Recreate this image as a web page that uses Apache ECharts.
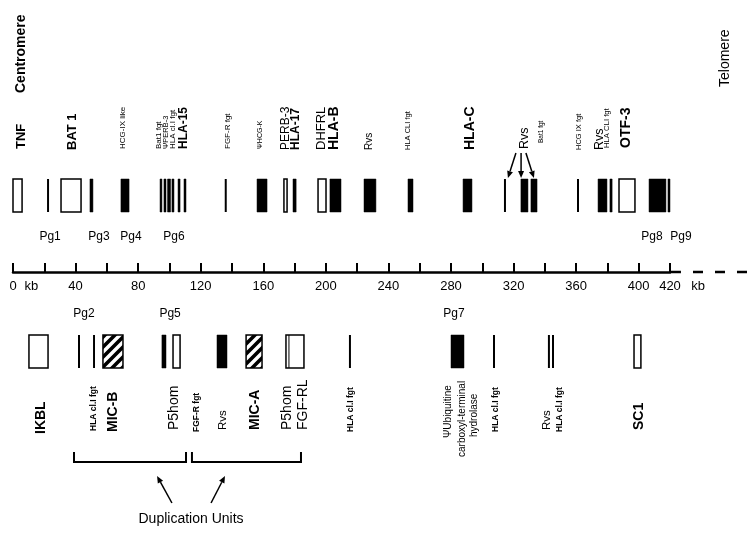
<!DOCTYPE html>
<html><head><meta charset="utf-8">
<script src="https://cdn.jsdelivr.net/npm/echarts@6/dist/echarts.min.js"></script>
<style>html,body{margin:0;padding:0;background:#fff}#c{width:756px;height:535px}</style>
</head><body><div id="c"></div>
<script>
// ===== DATA (positions in kb) =====
const tickStep = 20;
const tickLabelValues = [0, 40, 80, 120, 160, 200, 240, 280, 320, 360, 400, 420];
const axisMaxKb = 420;

// upper track
const topOpen  = [[0,5.8],[30.7,43.5],[173.2,175.2],[195,200.1],[387.4,397.6]];
const topFill  = [[49.2,51.1],[69,74.2],[94,95.2],[96.5,97.8],[98.8,100.7],[101.6,102.9],[105.5,106.8],[109.3,110.6],
                  [156,162.4],[179,181],[202.6,209.7],[224.4,232],[252.5,255.7],[287.7,293.4],[324.7,329.2],[331.1,335],
                  [374,379.7],[381.6,383],[406.6,417.4],[418.7,420]];
const topLines = [22.4, 136, 314.5, 361.2];

// lower track
const botOpen  = [[10.2,22.4],[102.3,106.8],[174.5,186],[397,401.4]];
const botInner = [176.4];
const botFill  = [[95.2,97.8],[130.4,136.8],[280,288.3]];
const botHatch = [[57.5,70.3],[149,159.2]];
const botLines = [42.2, 51.8, 215.4, 307.5, 342.6, 345.2];

// labels
const topLabels = ['Centromere','TNF','BAT 1','HCG-IX like','Bat1 fgt','ΨPERB-3','HLA cl.I fgt','HLA-15','FGF-R fgt','ΨHCG-K',
                   'PERB-3','HLA-17','DHFRL','HLA-B','Rvs','HLA CLI fgt','HLA-C','Rvs','Bat1 fgt','HCG IX fgt','Rvs','HLA CLI fgt','OTF-3','Telomere'];
const topLabelKb = [5.3,5.3,37.7,70.3,93.3,97.8,102.3,109.3,137.4,157.9,
                    174.5,180.9,196.9,205.2,227.9,252.5,292.1,326.7,337.5,361.8,375.2,379.7,391.9,455.2];
const pgTop = ['Pg1','Pg3','Pg4','Pg6','Pg8','Pg9'];
const pgTopKb = [23.7,55,75.4,102.9,408.5,427];
const pgBot = ['Pg2','Pg5','Pg7'];
const pgBotKb = [45.4,100.4,281.9];
const botLabels = ['IKBL','HLA cl.I fgt','MIC-B','P5hom','FGF-R fgt','Rvs','MIC-A','P5hom','FGF-RL','HLA cl.I fgt',
                   'ΨUbiquitine','carboxyl-terminal','hydrolase','HLA cl.I fgt','Rvs','HLA cl.I fgt','SC1'];
const botLabelKb = [17.9,51.8,63.9,102.9,117.6,134.2,154.7,175.2,185.4,216.1,278.1,287,294.7,308.8,341.4,349.7,400.2];
const rvsArrowFromKb = [321.5,324.8,327.9];
const rvsArrowToKb   = [316.4,324.8,333.0];
const dupUnitsKb = [[39,110.6],[114.4,184.1]];
const dupArrowFromKb = [101.6,126.6];
const dupArrowToKb   = [92.1,135.5];
const dupTextKb = 113.8;
const kbUnitKb = [11.8, 437.9];
const axisExtKb = [420, 427];
const dashKb = [434.7, 470];

// ===== LAYOUT / STYLE =====
const FONT = "'Liberation Sans', Arial, Helvetica, sans-serif";
const ROW_T = {t:179, b:212};
const ROW_B = {t:335, b:368};
const topLabelStyle = ['B14','B13','B13','R8','R8','R7.5','R8','B12','R8','R7','R12','B12','R13','B14','R10','R7.5','B14','R12.5','R6.5','R7.5','R12.5','R7.7','B14','R14'];
const topLabelStart = [93,149,150,149,149,149,149,149,149,149,150,150,150,150,150,150,150,149,143,150,150,148,148,87];
const botLabelStyle = ['B14','B8.5','B14','R14','B8.5','R11.5','B14','R14','R14','B8.5','R10','R10','R10','B8.5','R11.5','B8.5','B14'];
const botLabelStart = [434,431,432,430,432,430,430,430,430,432,438,457,437,432,430,432,430];

// hatch pattern
const pc = document.createElement('canvas'); pc.width = 10; pc.height = 10;
const g = pc.getContext('2d');
g.fillStyle = '#fff'; g.fillRect(0,0,10,10);
g.strokeStyle = '#000'; g.lineWidth = 3.6;
g.beginPath();
g.moveTo(-5,5); g.lineTo(5,-5);
g.moveTo(0,10); g.lineTo(10,0);
g.moveTo(5,15); g.lineTo(15,5);
g.stroke();
const hatch = {image: pc, repeat: 'repeat'};

function fontOf(st){ const b = st[0]==='B'; return (b?'bold ':'') + parseFloat(st.slice(1)) + 'px ' + FONT; }

function blockSeries(data, row, kind){
  return {type:'custom', xAxisIndex:0, yAxisIndex:0, clip:false, silent:true,
    data: data.map(d => Array.isArray(d) ? d : [d, d]),
    renderItem(params, api){
      const s = api.value(0), e = api.value(1);
      const p1 = api.coord([s, row.t]), p2 = api.coord([e, row.b]);
      if (kind === 'line') return {type:'line', shape:{x1:p1[0], y1:p1[1], x2:p1[0], y2:p2[1]}, style:{stroke:'#000', lineWidth:2}};
      let style;
      if (kind === 'open') style = {fill:'#fff', stroke:'#000', lineWidth:1.5};
      else if (kind === 'inner') return {type:'line', shape:{x1:p1[0], y1:p1[1], x2:p1[0], y2:p2[1]}, style:{stroke:'#000', lineWidth:1}};
      else if (kind === 'fill') style = {fill:'#000', stroke:'#000', lineWidth:0.5};
      else style = {fill:hatch, stroke:'#000', lineWidth:1.5};
      return {type:'rect', shape:{x:p1[0], y:p1[1], width:p2[0]-p1[0], height:p2[1]-p1[1]}, style};
    }};
}

function vLabelSeries(texts, kbs, styles, starts){
  return {type:'custom', xAxisIndex:0, yAxisIndex:0, clip:false, silent:true,
    data: kbs.map((k,i) => [k, starts[i]]),
    renderItem(params, api){
      const i = params.dataIndex;
      const p = api.coord([api.value(0), api.value(1)]);
      return {type:'text', x:p[0], y:p[1], rotation:Math.PI/2,
        style:{text:texts[i], font:fontOf(styles[i]), fill:'#000', align:'left', verticalAlign:'middle'}};
    }};
}

function hLabelSeries(texts, kbs, y, font){
  return {type:'custom', xAxisIndex:0, yAxisIndex:0, clip:false, silent:true,
    data: kbs.map(k => [k, y]),
    renderItem(params, api){
      const p = api.coord([api.value(0), api.value(1)]);
      return {type:'text', x:p[0], y:p[1], style:{text:texts[params.dataIndex], font, fill:'#000', align:'center', verticalAlign:'middle'}};
    }};
}

function arrowSeries(from, to, y1, y2){
  return {type:'custom', xAxisIndex:0, yAxisIndex:0, clip:false, silent:true,
    data: from.map((f,i) => [f, y1, to[i], y2]),
    renderItem(params, api){
      const a = api.coord([api.value(0), api.value(1)]);
      const b = api.coord([api.value(2), api.value(3)]);
      const dx = b[0]-a[0], dy = b[1]-a[1], L = Math.hypot(dx,dy);
      const ux = dx/L, uy = dy/L, nx = -uy, ny = ux;
      const hl = 7, hw = 3;
      const bx = b[0]-ux*hl, by = b[1]-uy*hl;
      return {type:'group', children:[
        {type:'line', shape:{x1:a[0], y1:a[1], x2:bx, y2:by}, style:{stroke:'#000', lineWidth:1.5}},
        {type:'polygon', shape:{points:[[b[0],b[1]],[bx+nx*hw,by+ny*hw],[bx-nx*hw,by-ny*hw]]}, style:{fill:'#000'}}
      ]};
    }};
}

const series = [
  blockSeries(topOpen, ROW_T, 'open'),
  blockSeries(topFill, ROW_T, 'fill'),
  blockSeries(topLines, ROW_T, 'line'),
  blockSeries(botOpen, ROW_B, 'open'),
  blockSeries(botInner, ROW_B, 'inner'),
  blockSeries(botFill, ROW_B, 'fill'),
  blockSeries(botHatch, ROW_B, 'hatch'),
  blockSeries(botLines, ROW_B, 'line'),
  vLabelSeries(topLabels, topLabelKb, topLabelStyle, topLabelStart),
  vLabelSeries(botLabels, botLabelKb, botLabelStyle, botLabelStart),
  hLabelSeries(pgTop, pgTopKb, 237, '12px ' + FONT),
  hLabelSeries(pgBot, pgBotKb, 314, '12px ' + FONT),
  hLabelSeries(['kb','kb'], kbUnitKb, 286, '13px ' + FONT),
  hLabelSeries(['Duplication Units'], [dupTextKb], 519, '14px ' + FONT),
  arrowSeries(rvsArrowFromKb, rvsArrowToKb, 153, 178),
  arrowSeries(dupArrowFromKb, dupArrowToKb, 503, 476),
  // brackets
  {type:'custom', xAxisIndex:0, yAxisIndex:0, clip:false, silent:true, data: dupUnitsKb,
   renderItem(params, api){
     const s = api.value(0), e = api.value(1);
     const pts = [[s,452],[s,462],[e,462],[e,452]].map(q => api.coord(q));
     return {type:'polyline', shape:{points:pts}, style:{stroke:'#000', lineWidth:2, fill:null}};
   }},
  // axis extension and dashed continuation
  {type:'custom', xAxisIndex:0, yAxisIndex:0, clip:false, silent:true, data:[axisExtKb.concat([0]), dashKb.concat([1])],
   renderItem(params, api){
     const a = api.coord([api.value(0), 272]), b = api.coord([api.value(1), 272]);
     const dashed = api.value(2) === 1;
     return {type:'line', shape:{x1:a[0], y1:a[1], x2:b[0], y2:b[1]},
       style:{stroke:'#000', lineWidth:dashed ? 2.5 : 2.5, lineDash: dashed ? [10,12] : null}};
   }}
];

const chart = echarts.init(document.getElementById('c'), null, {renderer:'canvas'});
chart.setOption({
  animation:false,
  backgroundColor:'#fff',
  grid:[
    {left:13, right:86, top:0, bottom:0},
    {left:13, right:86, top:0, bottom:263}
  ],
  xAxis:[
    {gridIndex:0, type:'value', min:0, max:axisMaxKb, show:false},
    {gridIndex:1, type:'value', min:0, max:axisMaxKb, interval:tickStep, position:'bottom',
     axisLine:{show:true, onZero:false, lineStyle:{color:'#000', width:2.5}},
     axisTick:{show:true, inside:true, length:9, lineStyle:{color:'#000', width:2}},
     splitLine:{show:false},
     axisLabel:{show:true, margin:8, color:'#000', fontSize:13, fontFamily:FONT, showMinLabel:true, showMaxLabel:true,
       formatter: v => tickLabelValues.indexOf(v) >= 0 ? String(v) : ''}}
  ],
  yAxis:[
    {gridIndex:0, type:'value', min:0, max:535, inverse:true, show:false},
    {gridIndex:1, type:'value', min:0, max:1, show:false}
  ],
  series
});
</script>
</body></html>
